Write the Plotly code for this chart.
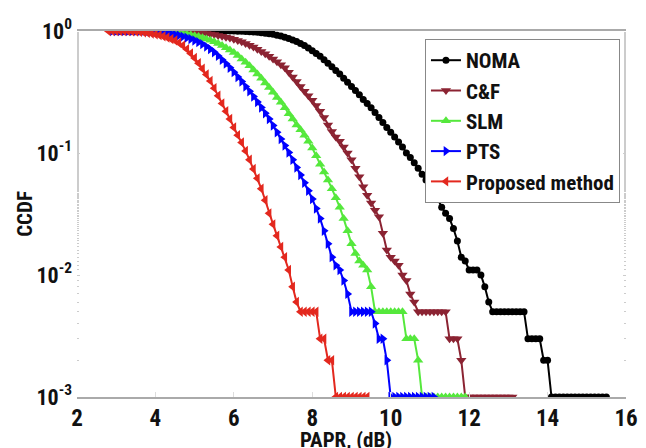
import numpy as np
import plotly.graph_objects as go

# ---------------- data ----------------
step = 0.1

noma_x0 = 3.0
noma_y = ([1.0] * 30 +
          [0.998, 0.996, 0.994, 0.99, 0.986, 0.98, 0.975, 0.968, 0.96, 0.95,
           0.94, 0.925, 0.91, 0.89, 0.87, 0.845, 0.82, 0.79, 0.76, 0.725,
           0.69, 0.655, 0.62, 0.58, 0.545, 0.51, 0.475, 0.445, 0.41, 0.38,
           0.35, 0.325, 0.30, 0.275, 0.255, 0.235, 0.215, 0.195, 0.178, 0.162,
           0.148, 0.135, 0.123, 0.112, 0.10, 0.092, 0.083, 0.075, 0.067, 0.06,
           0.054, 0.048, 0.042, 0.036, 0.032, 0.029, 0.024, 0.019, 0.014, 0.013,
           0.011, 0.011, 0.011, 0.01, 0.008, 0.006] +
          [0.005] * 9 +
          [0.003, 0.003, 0.003, 0.003, 0.002, 0.002] +
          [0.001] * 15)

cf_x0 = 3.0
cf_y = ([1.0] * 16 +
        [0.998, 0.995, 0.99, 0.985, 0.98, 0.975, 0.965, 0.955, 0.945, 0.935,
         0.92, 0.905, 0.89, 0.875, 0.855, 0.835, 0.815, 0.79, 0.765, 0.74,
         0.71, 0.68, 0.65, 0.62, 0.59, 0.56, 0.53, 0.50, 0.46, 0.42,
         0.385, 0.35, 0.32, 0.295, 0.27, 0.245, 0.22, 0.195, 0.17, 0.15,
         0.135, 0.125, 0.112, 0.10, 0.088, 0.075, 0.064, 0.053, 0.045, 0.039,
         0.034, 0.030, 0.022, 0.016, 0.014, 0.013, 0.012, 0.010, 0.009, 0.007,
         0.006] +
        [0.005] * 8 +
        [0.003, 0.003, 0.003, 0.002] +
        [0.001] * 13)

slm_x0 = 3.0
slm_y = ([1.0] * 10 +
         [0.998, 0.995, 0.99, 0.985, 0.98, 0.975, 0.965, 0.955, 0.945, 0.93,
          0.915, 0.90, 0.88, 0.86, 0.84, 0.815, 0.79, 0.76, 0.73, 0.70,
          0.665, 0.63, 0.59, 0.555, 0.52, 0.48, 0.445, 0.41, 0.375, 0.345,
          0.315, 0.285, 0.26, 0.235, 0.21, 0.19, 0.17, 0.155, 0.14, 0.125,
          0.11, 0.095, 0.081, 0.07, 0.06, 0.051, 0.043, 0.036, 0.029, 0.023,
          0.018, 0.015, 0.013, 0.012, 0.011, 0.008] +
         [0.005] * 8 +
         [0.003, 0.003, 0.003, 0.002] +
         [0.001] * 12)

pts_x0 = 2.9
pts_y = ([1.0] * 8 +
         [0.998, 0.995, 0.99, 0.985, 0.978, 0.97, 0.96, 0.95, 0.935, 0.92,
          0.90, 0.88, 0.86, 0.835, 0.81, 0.78, 0.745, 0.71, 0.67, 0.625,
          0.58, 0.54, 0.50, 0.46, 0.42, 0.385, 0.35, 0.32, 0.29, 0.262,
          0.236, 0.212, 0.19, 0.168, 0.148, 0.13, 0.115, 0.101, 0.088, 0.076,
          0.066, 0.057, 0.049, 0.042, 0.035, 0.029, 0.023, 0.018, 0.014, 0.012,
          0.011, 0.009, 0.007] +
         [0.005] * 6 +
         [0.004, 0.003, 0.003, 0.002] +
         [0.001] * 12)

prop_x0 = 2.8
prop_y = ([1.0] * 5 +
          [0.998, 0.995, 0.99, 0.985, 0.975, 0.965, 0.955, 0.94, 0.925, 0.905,
           0.885, 0.86, 0.835, 0.80, 0.76, 0.71, 0.655, 0.60, 0.545, 0.49,
           0.44, 0.39, 0.34, 0.295, 0.255, 0.22, 0.19, 0.162, 0.14, 0.122,
           0.104, 0.088, 0.074, 0.062, 0.051, 0.041, 0.032, 0.026, 0.021, 0.017,
           0.014, 0.011, 0.008, 0.006] +
          [0.005] * 5 +
          [0.003, 0.003, 0.002, 0.002] +
          [0.001] * 9)

names = ["NOMA", "C&F", "SLM", "PTS", "Proposed method"]
starts = [noma_x0, cf_x0, slm_x0, pts_x0, prop_x0]
ys = [noma_y, cf_y, slm_y, pts_y, prop_y]
colors = ["#000000", "#8B2332", "#55E83C", "#0000FF", "#E3281E"]
symbols = ["circle", "triangle-down", "triangle-up", "triangle-right", "triangle-left"]
sizes = [7, 9, 9, 9, 9]

x_ticks = [2, 4, 6, 8, 10, 12, 14, 16]
y_ticks = [1, 0.1, 0.01, 0.001]
y_ticktext = ["10<sup>0</sup>", "10<sup>-1</sup>", "10<sup>-2</sup>", "10<sup>-3</sup>"]

FONT = "Liberation Sans Narrow, Arial Narrow, Roboto Condensed, Liberation Sans, Arial, sans-serif"

fig = go.Figure()
for name, x0, y, c, s, sz in zip(names, starts, ys, colors, symbols, sizes):
    x = np.round(x0 + step * np.arange(len(y)), 2)
    fig.add_trace(go.Scatter(
        x=x, y=y, name=name, mode="lines+markers",
        line=dict(color=c, width=2),
        marker=dict(symbol=s, size=sz, color=c, line=dict(width=0)),
    ))

fig.update_layout(
    width=646, height=448,
    margin=dict(l=69, r=28, t=23, b=59, autoexpand=False),
    paper_bgcolor="white", plot_bgcolor="white",
    font=dict(family=FONT, size=20, color="#111"),
    showlegend=True,
    legend=dict(
        x=0.989, xanchor="right", y=0.978, yanchor="top",
        bgcolor="white", bordercolor="#888", borderwidth=1,
        font=dict(family=FONT, size=21, color="#111", weight="bold"),
        itemwidth=30, tracegroupgap=0,
    ),
)
fig.update_xaxes(
    range=[2, 16], tickvals=x_ticks, ticktext=[f"<b>{v}</b>" for v in x_ticks],
    showgrid=False, zeroline=False, automargin=False,
    showline=True, mirror=True, linecolor="#aaa", linewidth=1.5,
    ticks="inside", ticklen=5, tickcolor="#ddd",
    tickfont=dict(family=FONT, size=23, color="#111"),
)
fig.update_yaxes(
    type="log", range=[-3, 0], tickvals=y_ticks,
    ticktext=[f"<b>{t}</b>" for t in y_ticktext],
    showgrid=False, zeroline=False, showline=False, mirror="ticks", automargin=False,
    ticks="inside", ticklen=3, tickcolor="#ccc", ticklabelstandoff=4,
    minor=dict(ticks="inside", ticklen=2, tickcolor="#ccc", showgrid=False),
    tickfont=dict(family=FONT, size=22, color="#111"),
)
fig.add_annotation(text="<b>PAPR, (dB)</b>", xref="paper", yref="paper",
                   x=0.49, y=-0.08, xanchor="center", yanchor="top",
                   showarrow=False, font=dict(family=FONT, size=21, color="#111"))
fig.add_annotation(text="<b>CCDF</b>", xref="paper", yref="paper",
                   x=-0.095, y=0.50, xanchor="center", yanchor="middle", textangle=-90,
                   showarrow=False, font=dict(family=FONT, size=21, color="#111"))

fig.write_html("out.html")
